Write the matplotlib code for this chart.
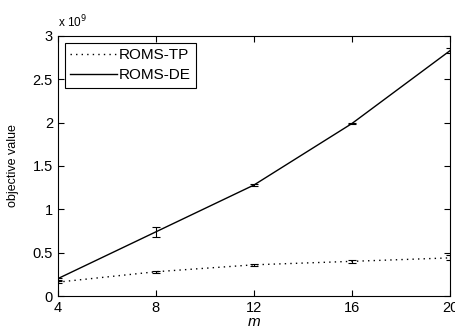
import numpy as np
import matplotlib.pyplot as plt
from matplotlib.lines import Line2D

# data (objective value in units of 1e9)
m = [4, 8, 12, 16, 20]
tp_val = [0.16, 0.28, 0.36, 0.40, 0.44]
tp_err = [0.01, 0.012, 0.012, 0.015, 0.03]
de_val = [0.20, 0.74, 1.28, 1.99, 2.83]
de_err = [0.01, 0.06, 0.015, 0.01, 0.03]

xticks = [4, 8, 12, 16, 20]
yticks = [0, 0.5, 1, 1.5, 2, 2.5, 3]

plt.rcParams['font.family'] = ['Liberation Sans', 'DejaVu Sans']

fig = plt.figure(figsize=(4.55, 3.36), dpi=100)
ax = fig.add_axes([0.127, 0.119, 0.862, 0.774])

dot = (0, (1, 3))
ax.errorbar(m, tp_val, yerr=tp_err, color='k', linestyle=dot,
            linewidth=1.0, capsize=3, elinewidth=0.8, capthick=0.8)
ax.errorbar(m, de_val, yerr=de_err, color='k', linestyle='-',
            linewidth=1.0, capsize=3, elinewidth=0.8, capthick=0.8)

ax.set_xlim(4, 20)
ax.set_ylim(0, 3)
ax.set_xticks(xticks)
ax.set_yticks(yticks)
ax.set_yticklabels(['0', '0.5', '1', '1.5', '2', '2.5', '3'])
ax.tick_params(direction='in', top=True, right=True, labelsize=10.5, length=4, width=0.8)
for s in ax.spines.values():
    s.set_linewidth(0.8)

ax.set_xlabel('m', fontsize=11, fontstyle='italic', labelpad=0)
ax.set_ylabel('objective value', fontsize=9)
ax.yaxis.set_label_coords(-0.098, 0.5)
ax.text(0.0, 1.02, r'x 10$^{9}$', transform=ax.transAxes, fontsize=8.5,
        ha='left', va='bottom')

handles = [Line2D([], [], color='k', linestyle=dot, linewidth=1.0),
           Line2D([], [], color='k', linestyle='-', linewidth=1.0)]
leg = ax.legend(handles, ['ROMS-TP', 'ROMS-DE'], loc='upper left', fontsize=11,
                fancybox=False, framealpha=1, edgecolor='k', handlelength=3.1,
                borderpad=0.35, labelspacing=0.4, borderaxespad=0.45,
                handletextpad=0.1)
leg.get_frame().set_linewidth(0.8)

fig.savefig('out.png', dpi=100)
